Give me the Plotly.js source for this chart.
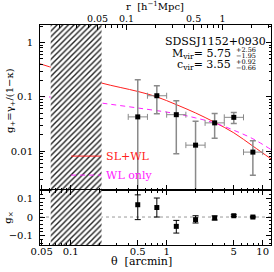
<!DOCTYPE html>
<html><head><meta charset="utf-8">
<script src="https://cdn.plot.ly/plotly-3.0.1.min.js"></script>
<style>html,body{margin:0;padding:0;background:#fff}#c{width:274px;height:272px}</style>
</head><body><div id="c"></div>
<script>
// ---- data ----
const theta   = [0.5, 0.79, 1.26, 2.0, 3.16, 5.0, 7.9];
const thetaLo = [0.398, 0.631, 1.0, 1.585, 2.512, 3.98, 6.31];
const thetaHi = [0.631, 1.0, 1.585, 2.512, 3.98, 6.31, 10.0];
const gPlus   = [0.0428, 0.105, 0.047, 0.0129, 0.0332, 0.042, 0.0096];
const gPlusErr= [0.165, 0.056, 0.038, 0.0225, 0.016, 0.0095, 0.006];
const gCross  = [0.066, 0.051, -0.05, -0.014, -0.005, 0.007, 0.0];
const gCrossErrUp = [0.053, 0.051, 0.032, 0.021, 0.011, 0.005, 0.004];
const gCrossErrDn = [0.08, 0.051, 0.036, 0.018, 0.011, 0.005, 0.004];
const modelTheta = [0.048, 0.1, 0.21, 0.5, 0.79, 1.26, 2.0, 3.16, 5.0, 7.9, 12.2];
const slwl   = [0.407, 0.271, 0.18, 0.126, 0.1, 0.072, 0.0506, 0.034, 0.0218, 0.0124, 0.0072];
const wlOnlyTheta = [0.048, 0.1, 0.21, 0.5, 1.26, 2.0, 3.16, 5.0, 7.9, 12.2];
const wlOnly = [0.102, 0.093, 0.077, 0.0625, 0.049, 0.041, 0.033, 0.0243, 0.0169, 0.0107];
const excludedTheta = [0.062, 0.21];   // hatched (excluded) region
const thetaTicks = [0.05, 0.1, 0.5, 1, 5, 10];
const thetaTickText = ["0.05", "0.1", "0.5", "1", "5", "10"];
const rTicks = [0.05, 0.1, 0.5, 1];
const rTickText = ["0.05", "0.1", "0.5", "1"];
const rPerArcmin = 0.262;
const gTicks = [0.01, 0.1, 1];
const gTickText = ["0.01", "0.1", "1"];
const gxTicks = [-0.1, 0, 0.1];
const gxTickText = ["\u22120.1", "0", "0.1"];

// ---- helpers ----
const F = "DejaVu Serif, Liberation Serif, serif";
function minorLog(lo, hi) {
  const out = [];
  for (let e = lo; e <= hi; e++) for (let m = 2; m <= 9; m++) out.push(+(m * Math.pow(10, e)).toPrecision(3));
  return out;
}
const xRange = [Math.log10(0.048), Math.log10(12.2)];
const rRange = [xRange[0] + Math.log10(rPerArcmin), xRange[1] + Math.log10(rPerArcmin)];
const hx = [excludedTheta[0], excludedTheta[1], excludedTheta[1], excludedTheta[0], excludedTheta[0]];
const hr = hx.map(t => t * rPerArcmin);
const hatch = {shape: '/', size: 4, solidity: 0.35, fgcolor: '#222', bgcolor: 'white', fillmode: 'replace'};

const traces = [
  // hatched region in the upper panel, drawn on the r axis (same place as theta range)
  {x: hr, y: [1e-4, 1e-4, 100, 100, 1e-4], xaxis: 'x2', yaxis: 'y', mode: 'lines', fill: 'toself',
   fillcolor: 'white', fillpattern: hatch, line: {width: 0}, showlegend: false, hoverinfo: 'skip'},
  {x: hx, y: [-1, -1, 1, 1, -1], xaxis: 'x3', yaxis: 'y2', mode: 'lines', fill: 'toself',
   fillcolor: 'white', fillpattern: hatch, line: {width: 0}, showlegend: false, hoverinfo: 'skip'},
  {x: modelTheta, y: slwl, xaxis: 'x', yaxis: 'y', mode: 'lines',
   line: {color: '#ff2020', width: 1, shape: 'spline'},
   name: '<span style="color:#ff2020">SL+WL</span>'},
  {x: wlOnlyTheta, y: wlOnly, xaxis: 'x', yaxis: 'y', mode: 'lines',
   line: {color: '#ff20ff', width: 1, dash: '5px,4px', shape: 'spline'},
   name: '<span style="color:#ff20ff">WL only</span>'},
  {x: theta, y: gPlus, xaxis: 'x', yaxis: 'y', mode: 'markers', showlegend: false,
   marker: {symbol: 'square', size: 5, color: 'black'},
   error_y: {type: 'data', array: gPlusErr, color: '#8a8a8a', thickness: 1.5, width: 3},
   error_x: {type: 'data', symmetric: false,
     array: theta.map((t, i) => thetaHi[i] - t), arrayminus: theta.map((t, i) => t - thetaLo[i]),
     color: '#8a8a8a', thickness: 1, width: 3}},
  {x: theta, y: gCross, xaxis: 'x3', yaxis: 'y2', mode: 'markers', showlegend: false,
   marker: {symbol: 'square', size: 5, color: 'black'},
   error_y: {type: 'data', symmetric: false, array: gCrossErrUp, arrayminus: gCrossErrDn,
     color: 'black', thickness: 1, width: 3}}
];

const axBase = {showline: true, linecolor: 'black', linewidth: 1, showgrid: false, zeroline: false,
  ticks: 'inside', ticklen: 5, tickcolor: 'black', tickwidth: 1,
  tickfont: {family: F, size: 10, color: 'black'}};

const K = {family: F, size: 11, color: 'black'};
const Ks = {family: F, size: 6.5, color: 'black'};

const layout = {
  width: 274, height: 272,
  margin: {l: 40, r: 3, t: 25, b: 27},
  paper_bgcolor: 'white', plot_bgcolor: 'white',
  font: {family: F, size: 10, color: 'black'},
  showlegend: true,
  legend: {x: 0.113, y: 0.47, xanchor: 'left', yanchor: 'top', bgcolor: 'rgba(0,0,0,0)',
    font: {family: F, size: 11}, itemwidth: 30, tracegroupgap: 0},
  xaxis: Object.assign({}, axBase, {type: 'log', range: xRange, domain: [0, 1], anchor: 'y',
    tickvals: thetaTicks, showticklabels: false,
    minor: {tickvals: minorLog(-2, 1), ticks: 'inside', ticklen: 2.5, tickcolor: 'black'}}),
  xaxis2: Object.assign({}, axBase, {type: 'log', overlaying: 'x', side: 'top', anchor: 'y',
    range: rRange, tickvals: rTicks, ticktext: rTickText, ticklabelstandoff: -2,
    tickfont: {family: F, size: 9.5, color: 'black'},
    minor: {tickvals: minorLog(-2, 0), ticks: 'inside', ticklen: 2.5, tickcolor: 'black'}}),
  yaxis: Object.assign({}, axBase, {type: 'log', range: [-2.716, 0.325], domain: [0.25, 1], anchor: 'x',
    mirror: 'ticks', tickvals: gTicks, ticktext: gTickText, ticklabelstandoff: 4,
    minor: {tickvals: minorLog(-3, 0), ticks: 'inside', ticklen: 2.5, tickcolor: 'black'}}),
  xaxis3: Object.assign({}, axBase, {type: 'log', range: xRange, domain: [0, 1], anchor: 'y2',
    mirror: 'ticks', tickvals: thetaTicks, ticktext: thetaTickText, ticklabelstandoff: -3,
    minor: {tickvals: minorLog(-2, 1), ticks: 'inside', ticklen: 2.5, tickcolor: 'black'}}),
  yaxis2: Object.assign({}, axBase, {range: [-0.15, 0.145], domain: [0, 0.25], anchor: 'x3',
    mirror: 'ticks', tickvals: gxTicks, ticktext: gxTickText, ticklabelstandoff: 4,
    minor: {dtick: 0.02, ticks: 'inside', ticklen: 2.5, tickcolor: 'black'}}),
  shapes: [
    {type: 'line', xref: 'x3 domain', yref: 'y2', x0: 0, x1: 1, y0: 0, y1: 0,
     line: {color: '#999', width: 1, dash: 'dot'}, layer: 'below'}
  ],
  annotations: [
    {text: 'SDSSJ1152+0930', xref: 'paper', yref: 'paper', x: 0.987, y: 0.924, xanchor: 'right', yanchor: 'middle',
     showarrow: false, font: K},
    {text: 'M<sub>vir</sub>= 5.75', xref: 'paper', yref: 'paper', x: 0.835, y: 0.868, xanchor: 'right', yanchor: 'middle',
     showarrow: false, font: K},
    {text: '+2.56', xref: 'paper', yref: 'paper', x: 0.838, y: 0.885, xanchor: 'left', yanchor: 'middle',
     showarrow: false, font: Ks},
    {text: '\u22121.95', xref: 'paper', yref: 'paper', x: 0.838, y: 0.857, xanchor: 'left', yanchor: 'middle',
     showarrow: false, font: Ks},
    {text: 'c<sub>vir</sub>= 3.55', xref: 'paper', yref: 'paper', x: 0.835, y: 0.819, xanchor: 'right', yanchor: 'middle',
     showarrow: false, font: K},
    {text: '+0.92', xref: 'paper', yref: 'paper', x: 0.838, y: 0.833, xanchor: 'left', yanchor: 'middle',
     showarrow: false, font: Ks},
    {text: '\u22120.66', xref: 'paper', yref: 'paper', x: 0.838, y: 0.805, xanchor: 'left', yanchor: 'middle',
     showarrow: false, font: Ks},
    {text: '\u03b8  [arcmin]', xref: 'paper', yref: 'paper', x: 0.439, y: -0.075, xanchor: 'center', yanchor: 'middle',
     showarrow: false, font: K},
    {text: 'r  [h<sup>\u22121</sup>Mpc]', xref: 'paper', yref: 'paper', x: 0.498, y: 1.087, xanchor: 'center', yanchor: 'middle',
     showarrow: false, font: {family: F, size: 10, color: 'black'}},
    {text: 'g<sub>+</sub>=\u03b3<sub>+</sub>/(1\u2212\u03ba)', xref: 'paper', yref: 'paper', x: -0.125, y: 0.655,
     xanchor: 'center', yanchor: 'middle', textangle: -90, showarrow: false, font: {family: F, size: 10, color: 'black'}},
    {text: 'g<sub>\u00d7</sub>', xref: 'paper', yref: 'paper', x: -0.135, y: 0.123,
     xanchor: 'center', yanchor: 'middle', textangle: -90, showarrow: false, font: {family: F, size: 10, color: 'black'}}
  ]
};

Plotly.newPlot('c', traces, layout, {displayModeBar: false, staticPlot: true});
</script></body></html>
